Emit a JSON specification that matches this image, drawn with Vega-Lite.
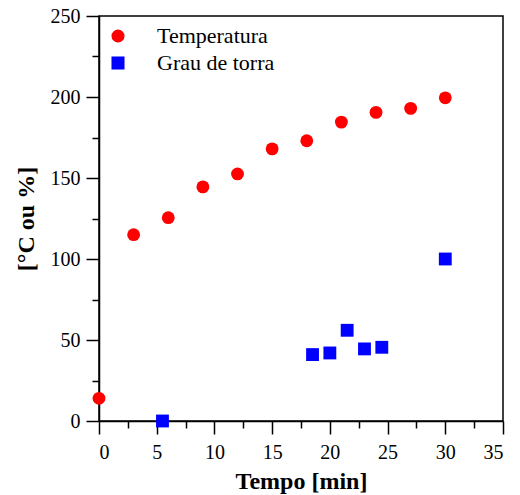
{
  "$schema": "https://vega.github.io/schema/vega-lite/v6.json",
  "autosize": {"type": "none"},
  "width": 404,
  "height": 405,
  "padding": {"left": 99, "top": 16, "right": 17, "bottom": 74},
  "background": "white",
  "config": {
    "view": {"stroke": "black", "strokeWidth": 1.5},
    "axis": {
      "domainColor": "black", "domainWidth": 1.5,
      "tickColor": "black", "tickWidth": 1.5,
      "labelFont": "Liberation Serif", "labelFontSize": 20, "labelColor": "black",
      "titleFont": "Liberation Serif", "titleFontSize": 24, "titleFontWeight": "bold", "titleColor": "black",
      "grid": false
    }
  },
  "datasets": {
    "pts": [
      {"tempo": 0, "valor": 14, "serie": "Temperatura"},
      {"tempo": 3, "valor": 115, "serie": "Temperatura"},
      {"tempo": 6, "valor": 125.5, "serie": "Temperatura"},
      {"tempo": 9, "valor": 144.5, "serie": "Temperatura"},
      {"tempo": 12, "valor": 152.5, "serie": "Temperatura"},
      {"tempo": 15, "valor": 168, "serie": "Temperatura"},
      {"tempo": 18, "valor": 173, "serie": "Temperatura"},
      {"tempo": 21, "valor": 184.5, "serie": "Temperatura"},
      {"tempo": 24, "valor": 190.5, "serie": "Temperatura"},
      {"tempo": 27, "valor": 193, "serie": "Temperatura"},
      {"tempo": 30, "valor": 199.5, "serie": "Temperatura"},
      {"tempo": 5.5, "valor": 0, "serie": "Grau de torra"},
      {"tempo": 18.5, "valor": 41, "serie": "Grau de torra"},
      {"tempo": 20, "valor": 42, "serie": "Grau de torra"},
      {"tempo": 21.5, "valor": 56, "serie": "Grau de torra"},
      {"tempo": 23, "valor": 44.5, "serie": "Grau de torra"},
      {"tempo": 24.5, "valor": 45.5, "serie": "Grau de torra"},
      {"tempo": 30, "valor": 100, "serie": "Grau de torra"}
    ]
  },
  "data": {"name": "pts"},
  "mark": {"type": "point", "filled": true, "opacity": 1, "strokeWidth": 0},
  "encoding": {
    "x": {"field": "tempo", "type": "quantitative", "scale": {"domain": [0, 35], "nice": false, "zero": false},
          "axis": {"title": "Tempo [min]", "values": [0, 2.5, 5, 7.5, 10, 12.5, 15, 17.5, 20, 22.5, 25, 27.5, 30, 32.5, 35],
                   "labelExpr": "datum.value % 5 === 0 ? datum.label : ''",
                   "tickSize": {"condition": {"test": "datum.value % 5 === 0", "value": 13}, "value": 7},
                   "labelPadding": 8, "titlePadding": 7}},
    "y": {"field": "valor", "type": "quantitative", "scale": {"domain": [0, 250], "nice": false},
          "axis": {"title": "[°C ou %]", "values": [0, 25, 50, 75, 100, 125, 150, 175, 200, 225, 250],
                   "labelExpr": "datum.value % 50 === 0 ? datum.label : ''",
                   "tickSize": {"condition": {"test": "datum.value % 50 === 0", "value": 13}, "value": 7},
                   "labelPadding": 6, "titlePadding": 12}},
    "color": {"field": "serie", "type": "nominal",
              "scale": {"domain": ["Temperatura", "Grau de torra"], "range": ["#ff0000", "#0000ff"]},
              "legend": {"title": null, "orient": "none", "legendX": 8, "legendY": 9, "padding": 0,
                         "labelFont": "Liberation Serif", "labelFontSize": 22, "labelColor": "black",
                         "labelOffset": 28, "rowPadding": 5, "symbolSize": 170, "symbolStrokeWidth": 0}},
    "shape": {"field": "serie", "type": "nominal",
              "scale": {"domain": ["Temperatura", "Grau de torra"], "range": ["circle", "square"]}},
    "size": {"value": 165}
  }
}
